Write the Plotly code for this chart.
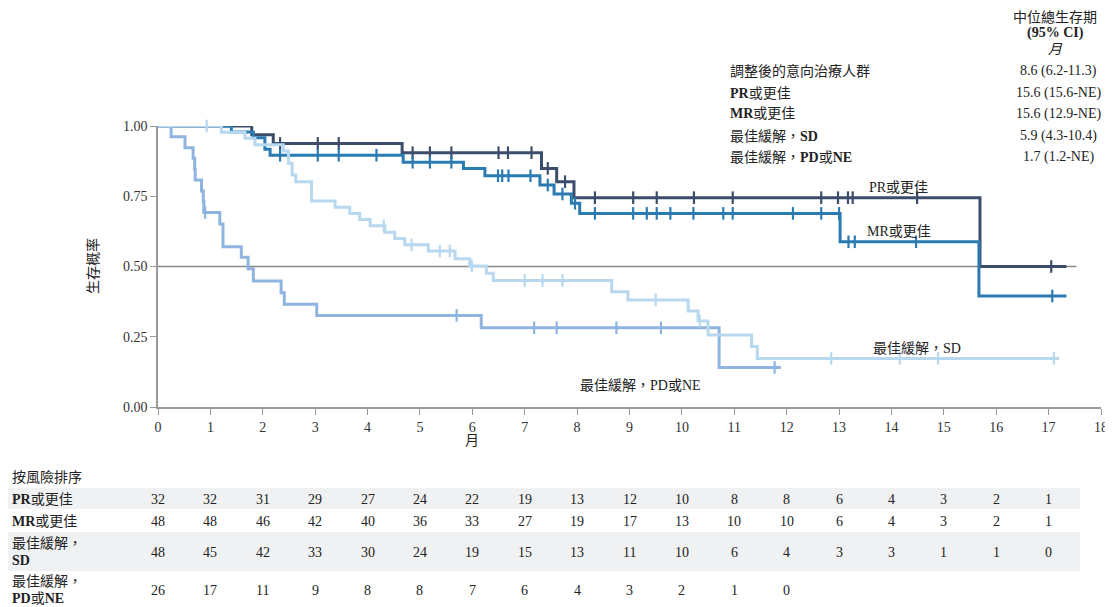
import plotly.graph_objects as go

# ---------------- data ----------------
months = list(range(0, 19))

pr_name = "PR或更佳"
pr_event_t = [0, 1.79, 2.20, 4.66, 7.32, 7.61, 7.94, 15.69]
pr_surv = [1.0, 0.969, 0.938, 0.905, 0.849, 0.802, 0.745, 0.50]
pr_end = 17.34
pr_cens = [2.33, 3.05, 3.45, 4.86, 5.19, 5.60, 6.50, 6.68, 7.13, 7.44, 7.77, 8.34, 9.07,
           9.52, 10.23, 10.97, 12.66, 12.98, 13.17, 13.26, 14.49, 17.05]

mr_name = "MR或更佳"
mr_event_t = [0, 1.40, 1.82, 2.04, 2.14, 4.68, 5.83, 6.24, 7.29, 7.56, 7.89, 8.05, 13.02, 15.67]
mr_surv = [1.0, 0.979, 0.958, 0.917, 0.896, 0.871, 0.849, 0.823, 0.790, 0.758, 0.725, 0.689, 0.588, 0.395]
mr_end = 17.34
mr_cens = [2.33, 3.05, 3.45, 4.17, 4.86, 5.19, 5.60, 6.49, 6.57, 6.69, 7.11, 7.44, 7.72, 7.96,
           8.34, 9.07, 9.33, 9.52, 9.78, 10.22, 10.79, 10.97, 12.12, 12.66, 13.00, 13.18, 13.30,
           14.47, 17.07]

sd_name = "最佳緩解，SD"
sd_event_t = [0, 1.21, 1.66, 1.85, 2.39, 2.49, 2.56, 2.63, 2.93, 3.38, 3.66, 3.85, 4.05, 4.33,
              4.52, 4.71, 5.16, 5.67, 5.95, 6.27, 6.40, 8.66, 8.97, 10.12, 10.31, 10.50, 11.33, 11.44]
sd_surv = [1.0, 0.978, 0.956, 0.933, 0.911, 0.867, 0.826, 0.802, 0.733, 0.711, 0.689, 0.667, 0.645,
           0.622, 0.600, 0.577, 0.555, 0.528, 0.502, 0.476, 0.450, 0.410, 0.381, 0.342, 0.306,
           0.256, 0.215, 0.173]
sd_end = 17.2
sd_cens = [0.93, 4.31, 4.84, 5.38, 5.57, 5.99, 7.00, 7.34, 7.72, 9.50, 10.34, 12.85, 14.16,
           14.89, 17.10]

pd_name = "最佳緩解，PD或NE"
pd_event_t = [0, 0.25, 0.515, 0.67, 0.70, 0.71, 0.83, 0.865, 0.875, 1.18, 1.24, 1.59, 1.72,
              1.82, 2.35, 2.41, 3.03, 6.17, 10.71]
pd_surv = [1.0, 0.962, 0.923, 0.885, 0.846, 0.808, 0.769, 0.731, 0.692, 0.651, 0.570, 0.533,
           0.492, 0.448, 0.407, 0.366, 0.326, 0.282, 0.141]
pd_end = 11.89
pd_cens = [0.90, 5.70, 7.18, 7.61, 8.75, 9.60, 11.77]

risk_header = "按風險排序"
risk_labels = [["<b>PR</b>或更佳"], ["<b>MR</b>或更佳"], ["最佳緩解，", "<b>SD</b>"],
               ["最佳緩解，", "<b>PD</b>或<b>NE</b>"]]
risk_pr = [32, 32, 31, 29, 27, 24, 22, 19, 13, 12, 10, 8, 8, 6, 4, 3, 2, 1]
risk_mr = [48, 48, 46, 42, 40, 36, 33, 27, 19, 17, 13, 10, 10, 6, 4, 3, 2, 1]
risk_sd = [48, 45, 42, 33, 30, 24, 19, 15, 13, 11, 10, 6, 4, 3, 3, 1, 1, 0]
risk_pd = [26, 17, 11, 9, 8, 8, 7, 6, 4, 3, 2, 1, 0]

median_header = ["中位總生存期", "<b>(95% CI)</b>", "<i>月</i>"]
median_labels = ["調整後的意向治療人群", "<b>PR</b>或更佳", "<b>MR</b>或更佳", "最佳緩解，<b>SD</b>", "最佳緩解，<b>PD</b>或<b>NE</b>"]
median_values = ["8.6 (6.2-11.3)", "15.6 (15.6-NE)", "15.6 (12.9-NE)", "5.9 (4.3-10.4)", "1.7 (1.2-NE)"]

# ---------------- style ----------------
FONT = "Liberation Serif, Times New Roman, Noto Sans CJK TC, serif"
TXT = "#222222"
C_PR = "#3c4c6b"
C_MR = "#2a7bb2"
C_SD = "#b7d8ef"
C_PD = "#8fb4e0"

OFF = 8  # page body margin
W, H = 1113 - OFF, 607 - OFF
L, R, T, B = 158 - OFF, 12, 126 - OFF, 200
PW, PH = W - L - R, H - T - B


def py(ypage):
    return (T + PH - (ypage - OFF)) / PH


def px(xpage):
    return (xpage - OFF - L) / PW


def step_at(ts, ss, t):
    v = ss[0]
    for ti, si in zip(ts, ss):
        if ti <= t:
            v = si
    return v


fig = go.Figure()

fig.add_shape(type="line", xref="x", yref="y", x0=0, x1=17.53, y0=0.5, y1=0.5,
              line=dict(color="#8a8a8a", width=1.5), layer="below")

series = [
    (pr_name, pr_event_t, pr_surv, pr_end, pr_cens, C_PR),
    (mr_name, mr_event_t, mr_surv, mr_end, mr_cens, C_MR),
    (pd_name, pd_event_t, pd_surv, pd_end, pd_cens, C_PD),
    (sd_name, sd_event_t, sd_surv, sd_end, sd_cens, C_SD),
]

for name, ts, ss, end, cens, col in series:
    fig.add_trace(go.Scatter(x=ts + [end], y=ss + [ss[-1]], mode="lines",
                             line=dict(color=col, width=3, shape="hv"),
                             name=name, showlegend=False, cliponaxis=False))
    fig.add_trace(go.Scatter(x=cens, y=[step_at(ts, ss, c) for c in cens], mode="markers",
                             marker=dict(symbol="line-ns-open", size=9, color=col,
                                         line=dict(color=col, width=2.2)),
                             showlegend=False, cliponaxis=False))

ann = []
# curve labels
ann += [
    dict(x=px(867), y=py(187), text="PR或更佳", xanchor="left"),
    dict(x=px(865), y=py(231), text="MR或更佳", xanchor="left"),
    dict(x=px(871), y=py(348), text="最佳緩解，SD", xanchor="left"),
    dict(x=px(578), y=py(385), text="最佳緩解，PD或NE", xanchor="left"),
]
# axis titles
ann += [
    dict(x=px(93), y=py(266), text="生存概率", textangle=-90, xanchor="center"),
    dict(x=6, xref="x", y=py(440), text="月", xanchor="center"),
]
# median table
hy = [17, 33, 49]
for t, yy in zip(median_header, hy):
    ann.append(dict(x=px(1055), y=py(yy), text=t, xanchor="center"))
ry = [71, 93, 114, 136, 157]
for lab, val, yy in zip(median_labels, median_values, ry):
    ann.append(dict(x=px(728), y=py(yy), text=lab, xanchor="left"))
    ann.append(dict(x=px(1058), y=py(yy), text=val, xanchor="center"))

# risk table
ann.append(dict(x=px(10), y=py(477), text=risk_header, xanchor="left"))
row_y = [499, 521, 552, 590]
for lines, yy in zip(risk_labels, row_y):
    if len(lines) == 1:
        ann.append(dict(x=px(10), y=py(yy), text=lines[0], xanchor="left"))
    else:
        ann.append(dict(x=px(10), y=py(yy - 9), text=lines[0], xanchor="left"))
        ann.append(dict(x=px(10), y=py(yy + 8), text=lines[1], xanchor="left"))
for vals, yy in zip([risk_pr, risk_mr, risk_sd, risk_pd], row_y):
    for m, v in zip(months, vals):
        ann.append(dict(x=m, xref="x", y=py(yy), text=str(v), xanchor="center"))

for a in ann:
    a.setdefault("xref", "paper")
    a["yref"] = "paper"
    a["yanchor"] = "middle"
    a["showarrow"] = False
    f = a.get("font", {})
    f.setdefault("size", 14)
    f.setdefault("family", FONT)
    f.setdefault("color", TXT)
    a["font"] = f

shapes_bg = [
    dict(type="rect", xref="paper", yref="paper", x0=px(0), x1=px(1080), y0=py(509), y1=py(488),
         fillcolor="#f0f1f3", line=dict(width=0), layer="below"),
    dict(type="rect", xref="paper", yref="paper", x0=px(0), x1=px(1080), y0=py(571), y1=py(532),
         fillcolor="#f0f1f3", line=dict(width=0), layer="below"),
]
for s in shapes_bg:
    fig.add_shape(**s)

fig.update_layout(
    width=W, height=H,
    margin=dict(l=L, r=R, t=T, b=B, autoexpand=False),
    paper_bgcolor="white", plot_bgcolor="white",
    font=dict(family=FONT, size=14, color=TXT),
    annotations=ann,
    xaxis=dict(range=[0, 18], tickmode="array", tickvals=months, ticktext=[str(m) for m in months],
               showgrid=False, zeroline=False, showline=True, linecolor="#9a9a9a", linewidth=1.5,
               ticks="outside", ticklen=6, tickcolor="#9a9a9a", tickwidth=1.2,
               tickfont=dict(family=FONT, size=14, color="#333333")),
    yaxis=dict(range=[0, 1.0], tickmode="array", tickvals=[0, 0.25, 0.5, 0.75, 1.0],
               ticktext=["0.00", "0.25", "0.50", "0.75", "1.00"],
               showgrid=False, zeroline=False, showline=True, linecolor="#9a9a9a", linewidth=1.5,
               ticks="outside", ticklen=6, tickcolor="#9a9a9a", tickwidth=1.2,
               tickfont=dict(family=FONT, size=14, color="#333333")),
)

fig.write_html("out.html")
